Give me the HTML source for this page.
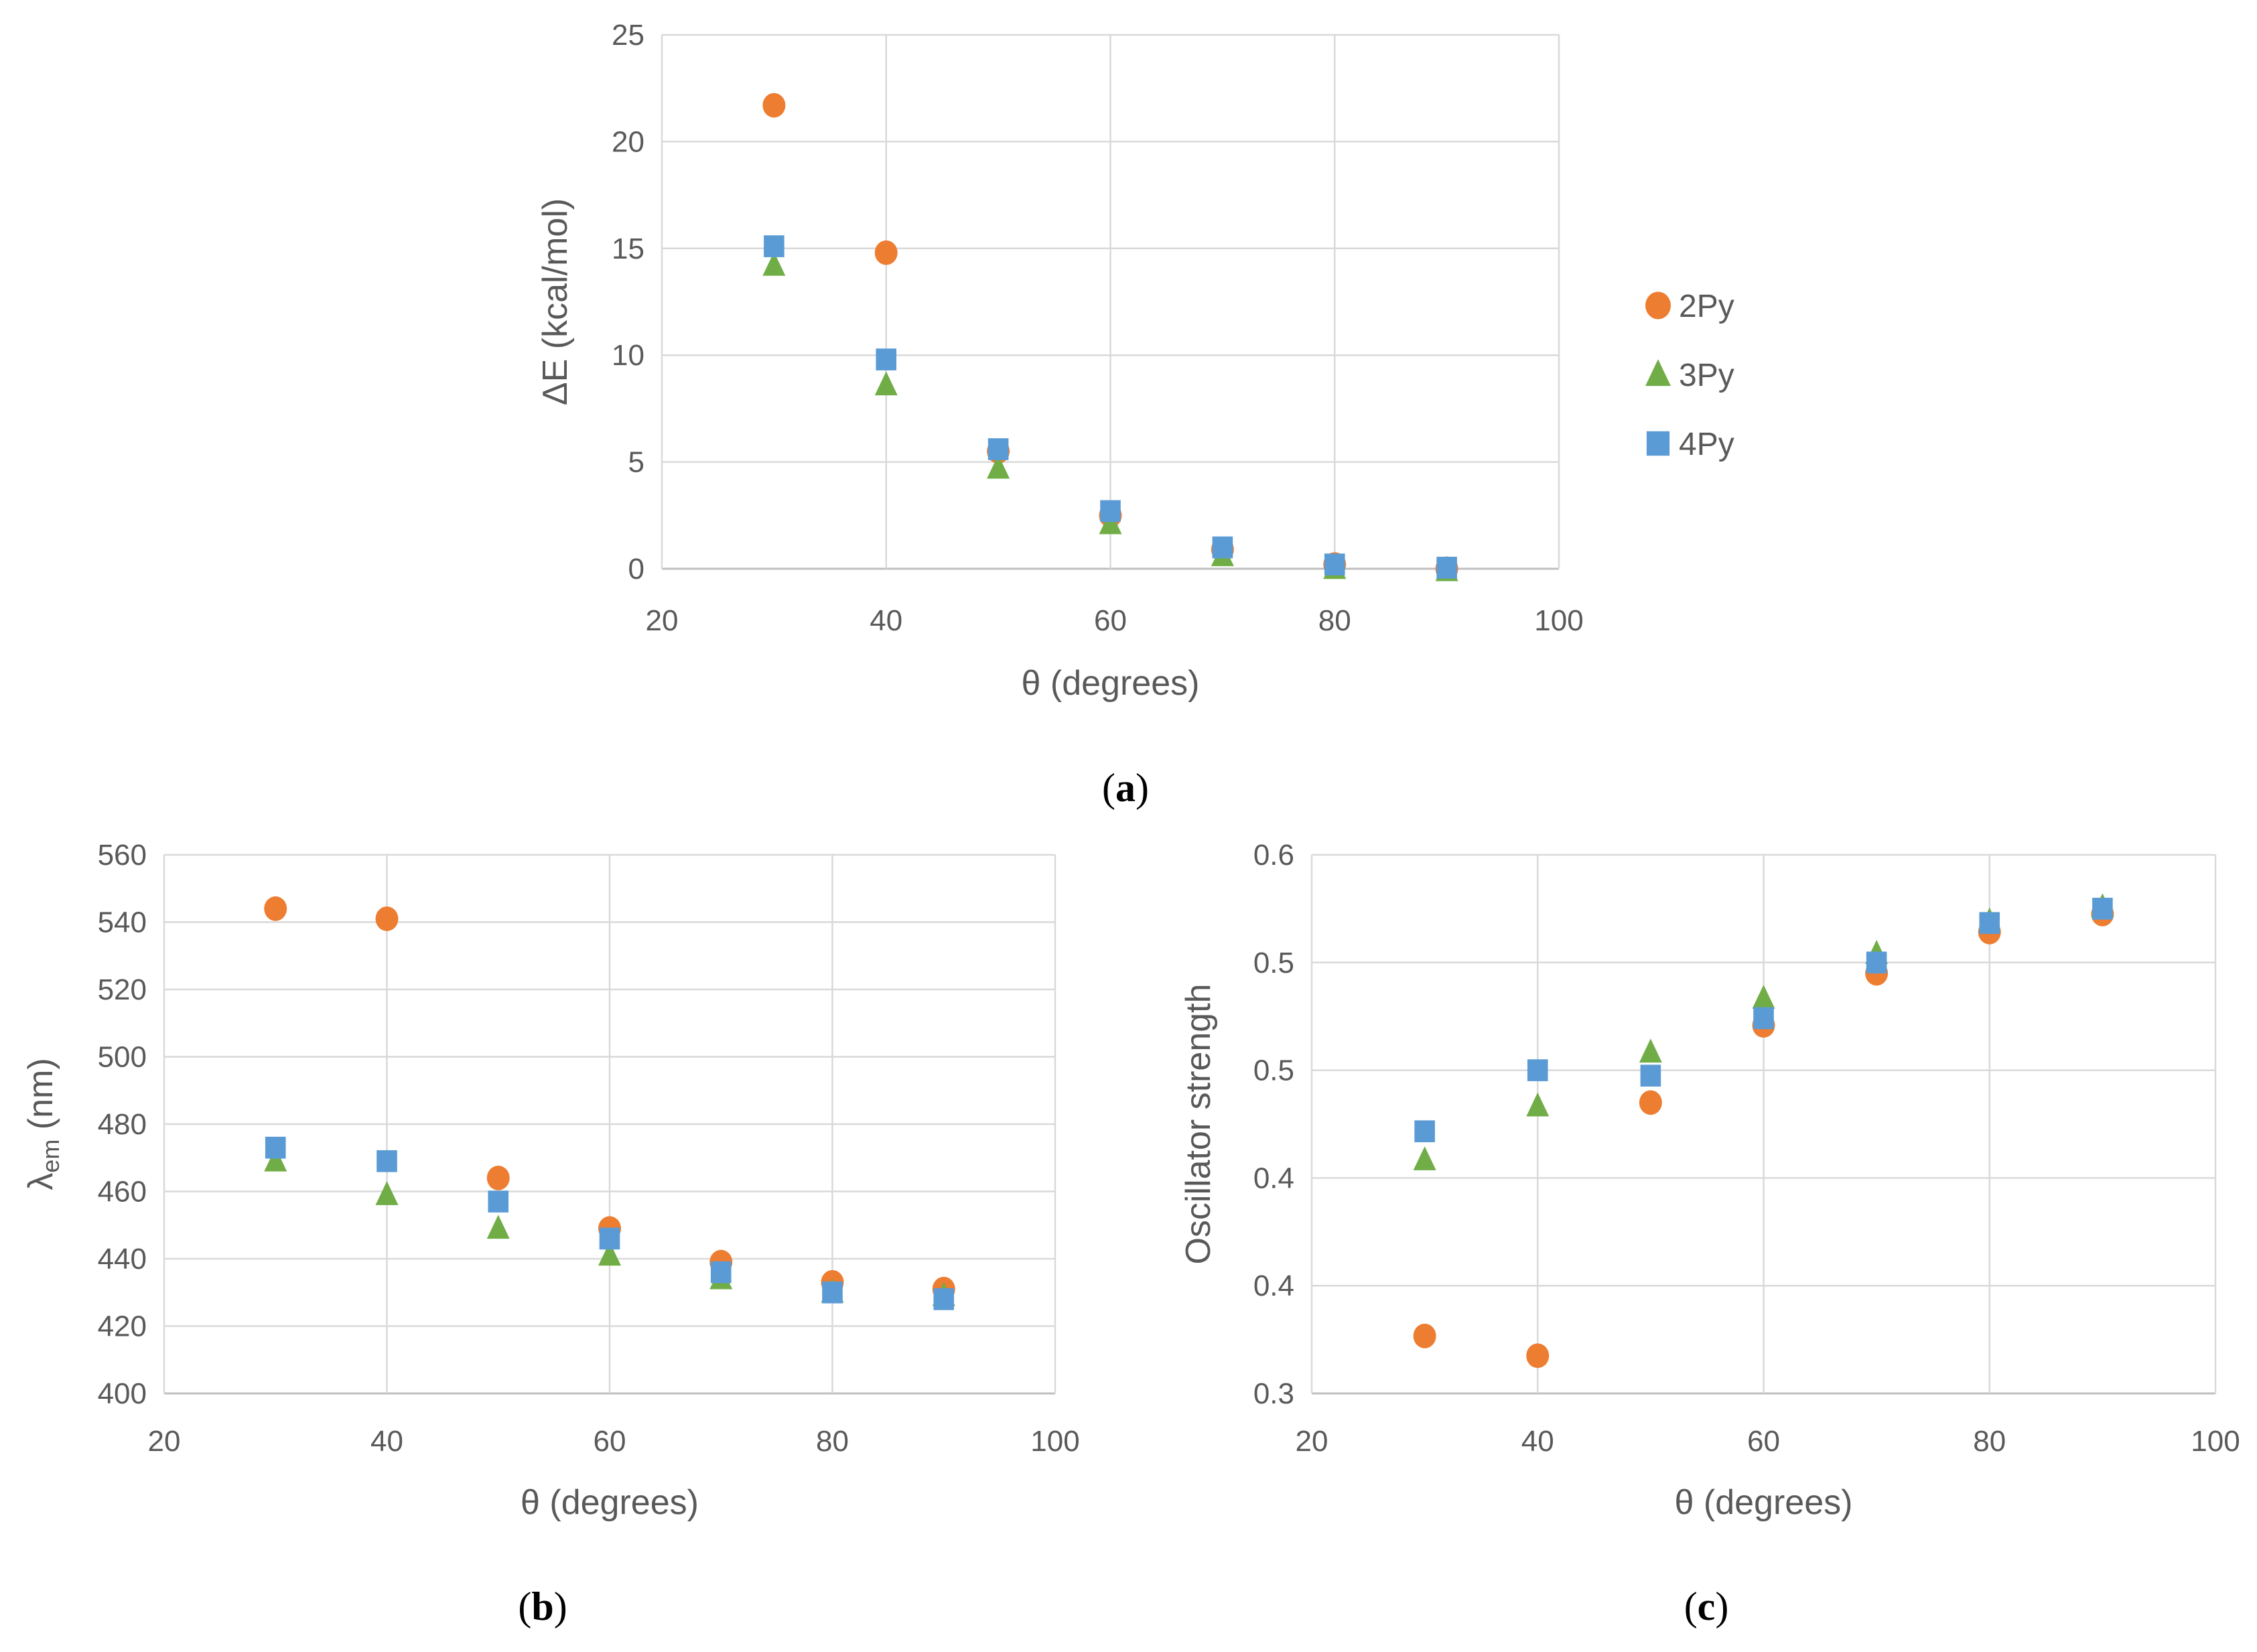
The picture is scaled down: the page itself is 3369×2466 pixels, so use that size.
<!DOCTYPE html>
<html><head><meta charset="utf-8"><style>
html,body{margin:0;padding:0;background:#fff;}
svg{display:block;}
text{font-family:"Liberation Sans Narrow","Liberation Sans",sans-serif;fill:#595959;}
.lbl{font-family:"Liberation Serif",serif;fill:#000;}
</style></head><body>
<svg id="fig" width="3369" height="2466" viewBox="0 0 3369 2466" xmlns="http://www.w3.org/2000/svg"></svg>
<script>
const thetas = [30, 40, 50, 60, 70, 80, 90];
const seriesNames = ["2Py", "3Py", "4Py"];
const dE_2Py = [21.7, 14.8, 5.5, 2.5, 0.9, 0.2, 0.0];
const dE_3Py = [14.2, 8.6, 4.7, 2.1, 0.6, 0.0, -0.1];
const dE_4Py = [15.1, 9.8, 5.6, 2.7, 1.0, 0.2, 0.05];
const lam_2Py = [544, 541, 464, 449, 439, 433, 431];
const lam_3Py = [469, 459, 449, 441, 434, 430, 429];
const lam_4Py = [473, 469, 457, 446, 436, 430, 428];
const osc_2Py = [0.332, 0.321, 0.462, 0.505, 0.534, 0.557, 0.567];
const osc_3Py = [0.430, 0.460, 0.490, 0.520, 0.545, 0.563, 0.571];
const osc_4Py = [0.446, 0.480, 0.477, 0.509, 0.540, 0.562, 0.570];
const xTicks = [20, 40, 60, 80, 100];
const yTicksA = [0, 5, 10, 15, 20, 25];
const yTicksB = [400, 420, 440, 460, 480, 500, 520, 540, 560];
const yTicksC = [0.3, 0.36, 0.42, 0.48, 0.54, 0.6];
const yTickLabelsC = ["0.3", "0.4", "0.4", "0.5", "0.5", "0.6"];

const NS = "http://www.w3.org/2000/svg";
const fig = document.getElementById("fig");
const colors = ["#ED7D31", "#70AD47", "#5B9BD5"];
function mk(tag, attrs, parent) {
  const e = document.createElementNS(NS, tag);
  for (const k in attrs) e.setAttribute(k, attrs[k]);
  (parent || fig).appendChild(e);
  return e;
}
function marker(g, kind, cx, cy, s) {
  let e;
  if (kind === 0) e = mk("ellipse", {cx: cx, cy: cy, rx: s * 0.5, ry: s * 0.54, fill: colors[0]}, g);
  else if (kind === 1) e = mk("polygon", {points: `${cx},${cy - s * 0.6} ${cx - s * 0.5},${cy + s * 0.45} ${cx + s * 0.5},${cy + s * 0.45}`, fill: colors[1]}, g);
  else e = mk("rect", {x: cx - s * 0.45, y: cy - s * 0.48, width: s * 0.9, height: s * 0.96, fill: colors[2]}, g);
  return e;
}
function chart(cfg) {
  const g = mk("g", {});
  
  
  const xs = v => cfg.x0 + (v - 20) / 80 * (cfg.x1 - cfg.x0);
  const ys = v => cfg.y1 - (v - cfg.ymin) / (cfg.ymax - cfg.ymin) * (cfg.y1 - cfg.y0);
  cfg.yTicks.forEach((t, i) => {
    const l = mk("line", {x1: cfg.x0, x2: cfg.x1, y1: ys(t), y2: ys(t), stroke: i === 0 ? "#bfbfbf" : "#d9d9d9", "stroke-width": i === 0 ? 3 : 2.5}, g);
    
    
    const tx = mk("text", {x: cfg.x0 - 26, y: ys(t) + 15, "text-anchor": "end", "font-size": 44}, g);
    tx.textContent = cfg.yLabels ? cfg.yLabels[i] : String(t);
    
    
  });
  xTicks.forEach(t => {
    const l = mk("line", {x1: xs(t), x2: xs(t), y1: cfg.y0, y2: cfg.y1, stroke: "#d9d9d9", "stroke-width": 2.5}, g);
    
    
    const tx = mk("text", {x: xs(t), y: cfg.y1 + cfg.xlo, "text-anchor": "middle", "font-size": 44}, g);
    tx.textContent = String(t);
    
    
  });
  const xt = mk("text", {x: (cfg.x0 + cfg.x1) / 2, y: cfg.y1 + cfg.xto, "text-anchor": "middle", "font-size": 52}, g);
  xt.textContent = "θ (degrees)";
  
  
  const yt = mk("text", {x: 0, y: 0, "text-anchor": "middle", "font-size": 52, "font-family": "Liberation Sans, sans-serif", transform: `translate(${cfg.ytx},${(cfg.y0 + cfg.y1) / 2}) rotate(-90)`}, g);
  yt.innerHTML = cfg.ytitle;
  
  
  cfg.series.forEach((arr, si) => {
    arr.forEach((v, i) => {
      const m = marker(g, si, xs(thetas[i]), ys(v), 34);
      
      
    });
  });
  const lb = mk("text", {x: cfg.lx, y: cfg.ly, "text-anchor": "middle", "font-size": 60, class: "lbl"}, g);
  lb.innerHTML = "(<tspan font-weight='bold'>" + cfg.letter + "</tspan>)";
  
  
}
chart({name: "chart-a", x0: 988, x1: 2327, y0: 52, y1: 849, ymin: 0, ymax: 25, yTicks: yTicksA, xlo: 92, xto: 188,
  series: [dE_2Py, dE_3Py, dE_4Py], ytx: 846, ytitle: "ΔE (kcal/mol)", letter: "a", lx: 1680, ly: 1196});
chart({name: "chart-b", x0: 245, x1: 1575, y0: 1276, y1: 2080, ymin: 400, ymax: 560, yTicks: yTicksB, xlo: 86, xto: 180,
  series: [lam_2Py, lam_3Py, lam_4Py], ytx: 78, ytitle: "λ<tspan font-size='36' dy='10'>em</tspan><tspan dy='-10'> (nm)</tspan>", letter: "b", lx: 810, ly: 2418});
chart({name: "chart-c", x0: 1958, x1: 3307, y0: 1276, y1: 2080, ymin: 0.3, ymax: 0.6, yTicks: yTicksC, yLabels: yTickLabelsC, xlo: 86, xto: 180,
  series: [osc_2Py, osc_3Py, osc_4Py], ytx: 1806, ytitle: "Oscillator strength", letter: "c", lx: 2547, ly: 2418});
// legend
const lg = mk("g", {});


seriesNames.forEach((n, i) => {
  const cy = 456 + i * 103;
  const m = marker(lg, i, 2475, cy, 38);
  
  
  const t = mk("text", {x: 2506, y: cy + 17, "font-size": 48}, lg);
  t.textContent = n;
  
  
});
</script>
</body></html>
